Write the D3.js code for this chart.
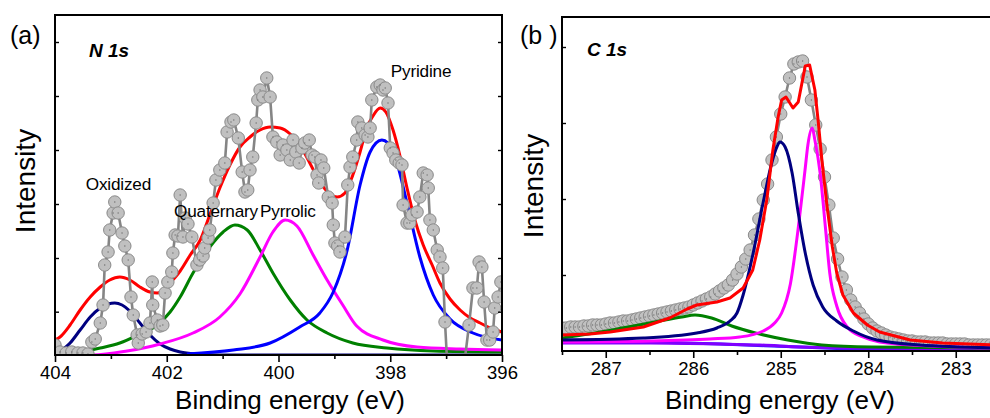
<html>
<head>
<meta charset="utf-8">
<script src="https://d3js.org/d3.v7.min.js"></script>
<style>
body { margin: 0; background: #fff; }
text { font-family: "Liberation Sans", Arial, sans-serif; }
</style>
</head>
<body>
<script>
// ---------- panel (a) : N 1s ----------
// binding energy (eV) / intensity (a.u.)
const n1sPoints = [
  [404.00,10],[403.91,3],[403.80,2],[403.70,3],[403.59,2],[403.50,2],[403.41,1],[403.34,13],
  [403.28,16],[403.19,32],[403.14,50],[403.11,90],[403.05,103],[403.02,125],[402.96,142],[402.93,153],
  [402.87,142],[402.80,122],[402.75,109],[402.69,95],[402.64,58],[402.60,40],[402.53,20],[402.51,12],
  [402.44,21],[402.37,23],[402.30,32],[402.26,73],[402.25,50],[402.17,35],[402.12,29],[402.07,30],
  [402.03,62],[401.98,73],[401.91,83],[401.89,102],[401.85,120],[401.80,119],[401.76,160],[401.71,118],
  [401.67,137],[401.62,131],[401.55,118],[401.46,90],[401.41,95],[401.35,99],[401.32,107],[401.26,117],
  [401.23,125],[401.17,152],[401.12,175],[401.05,185],[400.96,192],[400.92,223],[400.85,233],[400.80,235],
  [400.72,217],[400.65,183],[400.60,163],[400.55,165],[400.51,185],[400.46,198],[400.40,232],[400.37,255],
  [400.33,265],[400.28,258],[400.21,277],[400.15,258],[400.10,218],[400.03,213],[399.97,200],[399.92,210],
  [399.85,205],[399.79,195],[399.74,215],[399.69,203],[399.63,192],[399.58,207],[399.53,212],[399.45,215],
  [399.40,200],[399.35,198],[399.31,180],[399.28,172],[399.24,195],[399.19,187],[399.11,158],[399.04,152],
  [399.02,130],[398.99,112],[398.94,109],[398.90,103],[398.81,118],[398.76,170],[398.72,188],[398.67,198],
  [398.60,215],[398.58,233],[398.51,227],[398.45,220],[398.40,218],[398.36,227],[398.33,255],[398.24,268],
  [398.18,270],[398.13,265],[398.09,267],[398.04,252],[398.00,207],[397.95,202],[397.90,195],[397.84,192],
  [397.79,190],[397.77,150],[397.70,132],[397.65,132],[397.61,140],[397.52,143],[397.47,158],[397.41,182],
  [397.34,180],[397.32,167],[397.29,135],[397.23,125],[397.16,105],[397.11,98],[397.06,87],[397.02,33],
  [396.97,-20],[396.70,-20],[396.59,30],[396.52,67],[396.45,67],[396.41,93],[396.36,88],[396.32,53],
  [396.27,15],[396.22,15],[396.16,23],[396.13,47],[396.07,58],[396.02,73]
];
const n1sEnvelope = [
  [404.00,15],[403.91,18],[403.73,30],[403.55,45],[403.37,58],[403.19,68],[403.02,75],[402.84,78],
  [402.66,75],[402.48,68],[402.30,63],[402.17,62],[402.07,64],[401.94,72],[401.76,84],[401.58,100],
  [401.40,115],[401.23,140],[401.05,167],[400.87,190],[400.69,208],[400.51,218],[400.33,225],[400.15,228],
  [399.97,227],[399.79,221],[399.62,210],[399.44,192],[399.26,173],[399.08,161],[398.95,158],[398.81,162],
  [398.67,180],[398.54,203],[398.42,227],[398.31,239],[398.18,247],[398.08,243],[397.95,225],[397.83,200],
  [397.70,167],[397.56,135],[397.41,110],[397.25,90],[397.11,72],[396.93,56],[396.75,45],[396.57,37],
  [396.39,32],[396.21,27],[396.00,23]
];
const n1sOxidized = [
  [404.00,0],[403.95,2],[403.73,12],[403.55,25],[403.37,38],[403.19,47],[403.05,51],[402.93,52],
  [402.80,50],[402.66,44],[402.48,32],[402.30,20],[402.12,11],[401.94,6],[401.76,3],[401.49,1],
  [401.05,0],[399.62,0],[396.00,0]
];
const n1sQuaternary = [
  [404.00,0],[403.55,3],[403.19,7],[402.84,12],[402.48,21],[402.17,30],[401.94,43],[401.76,58],
  [401.53,82],[401.23,108],[400.99,123],[400.78,130],[400.56,125],[400.33,105],[400.10,82],[399.79,55],
  [399.49,35],[399.13,22],[398.67,12],[398.06,7],[397.23,4],[396.00,3]
];
const n1sPyrrolic = [
  [404.00,0],[403.32,0],[402.71,4],[402.12,11],[401.53,22],[401.05,38],[400.69,61],[400.33,98],
  [400.10,123],[399.88,135],[399.67,129],[399.38,100],[399.13,75],[398.85,50],[398.60,29],[398.13,15],
  [397.52,8],[396.75,6],[396.00,5]
];
const n1sPyridine = [
  [401.64,1],[400.81,5],[400.15,12],[399.62,28],[399.26,42],[399.02,63],[398.77,105],[398.54,170],
  [398.36,203],[398.15,215],[398.04,212],[397.88,192],[397.70,152],[397.47,98],[397.23,60],[396.93,36],
  [396.52,22],[396.00,15]
];
const n1sTicksMajor = [404, 402, 400, 398, 396];
const n1sTicksMinor = [403, 401, 399, 397];
const n1sTicksY = [43.3, 97, 151, 205, 259, 313];
const n1sLabels = [
  {text: "Oxidized", e: 403.45, v: 165},
  {text: "Quaternary", e: 401.87, v: 138},
  {text: "Pyrrolic", e: 400.33, v: 138},
  {text: "Pyridine", e: 397.99, v: 278}
];

// ---------- panel (b) : C 1s ----------
const c1sStart = 287.5, c1sStep = 0.05;
const c1sCounts = [
  23,23,24,24,24,25,25,26,26,26,27,28,28,29,30,30,31,32,33,34,
  35,36,37,38,39,40,41,42,43,44,46,48,50,52,54,57,60,63,66,71,
  77,84,92,101,116,132,151,167,191,214,237,254,273,287,289,290,274,251,226,202,
  174,146,113,92,74,61,51,44,38,32,27,23,20,18,16,14,13,12,11,10,
  10,9,9,9,8,8,8,8,7,7,7,7,7,6,6,6,6,6,6,6,6
];
const c1sEnvelope = [
  [287.50,16],[287.18,17],[286.95,19],[286.57,24],[286.27,33],[286.07,42],[285.96,46],[285.73,49],
  [285.58,53],[285.43,63],[285.32,81],[285.24,111],[285.16,151],[285.09,201],[285.03,234],[284.99,251],
  [284.94,254],[284.86,243],[284.80,249],[284.72,285],[284.67,286],[284.61,261],[284.57,228],[284.53,191],
  [284.47,144],[284.41,104],[284.36,78],[284.29,56],[284.17,38],[284.01,26],[283.87,19],[283.52,11],
  [283.15,8],[282.50,6]
];
const c1sNavy = [
  [287.50,11],[286.57,13],[285.96,18],[285.73,23],[285.58,30],[285.50,38],[285.43,56],[285.32,96],
  [285.20,149],[285.10,189],[285.04,205],[285.01,209],[284.95,204],[284.87,178],[284.80,138],[284.72,98],
  [284.63,66],[284.52,44],[284.36,30],[284.17,20],[283.90,11],[283.41,6],[282.50,3]
];
const c1sMagenta = [
  [287.50,9],[286.49,10],[285.81,12],[285.47,14],[285.20,20],[285.07,28],[284.99,38],[284.89,67],
  [284.80,123],[284.72,183],[284.69,206],[284.64,223],[284.61,211],[284.55,178],[284.49,124],[284.44,78],
  [284.36,45],[284.24,24],[284.06,14],[283.87,9],[283.29,5],[282.50,3]
];
const c1sGreen = [
  [287.50,13],[287.20,17],[286.81,23],[286.44,29],[286.13,34],[285.98,36],[285.79,33],[285.56,25],
  [285.29,18],[284.92,11],[284.53,6],[283.96,4],[282.50,3]
];
const c1sViolet = [
  [287.50,8],[286.49,8],[285.69,7],[285.24,6],[284.78,4],[284.21,3],[282.50,2]
];
const c1sBlue = [
  [287.50,11],[286.49,9],[285.69,7],[284.78,4],[284.09,2],[282.50,1]
];
const c1sTicksMajor = [287, 286, 285, 284, 283];
const c1sTicksMinor = [287.5, 286.5, 285.5, 284.5, 283.5, 282.5];
const c1sTicksY = [76, 152, 228, 304];

const W = 990, H = 418;
const svg = d3.select("body").append("svg").attr("width", W).attr("height", H);

function panel(cfg) {
  const g = svg.append("g");
  const x = d3.scaleLinear().domain(cfg.xDomain).range(cfg.xRange);
  const y = d3.scaleLinear().domain(cfg.yDomain).range(cfg.yRange);
  const clipId = "clip" + cfg.id;
  svg.append("clipPath").attr("id", clipId).append("rect")
    .attr("x", cfg.xRange[0]).attr("y", cfg.yRange[1])
    .attr("width", cfg.xRange[1] - cfg.xRange[0]).attr("height", cfg.yRange[0] - cfg.yRange[1]);
  const plot = g.append("g").attr("clip-path", `url(#${clipId})`);

  const line = d3.line().x(d => x(d[0])).y(d => y(d[1]));

  function drawScatter() {
    const sg = plot.append("g");
    sg.append("path").datum(cfg.points)
      .attr("d", d3.line().x(d => x(d[0])).y(d => y(d[1])))
      .attr("fill", "none").attr("stroke", "#858585").attr("stroke-width", 2.6);
    sg.selectAll("circle.pt").data(cfg.points).enter().append("circle")
      .attr("class", "pt")
      .attr("cx", d => x(d[0])).attr("cy", d => y(d[1])).attr("r", 6.2)
      .attr("fill", "#c0c0c0").attr("stroke", "#8a8a8a").attr("stroke-width", 1);
    sg.selectAll("circle.dot").data(cfg.points).enter().append("circle")
      .attr("class", "dot")
      .attr("cx", d => x(d[0])).attr("cy", d => y(d[1])).attr("r", 0.7)
      .attr("fill", "#707070");
  }
  function drawCurves() {
    cfg.curves.forEach(c => {
      plot.append("path").datum(c.data)
        .attr("d", line.curve(c.curve || d3.curveMonotoneX))
        .attr("fill", "none").attr("stroke", c.color).attr("stroke-width", 3)
        .attr("stroke-linejoin", "round");
    });
  }
  if (cfg.scatterOnTop) { drawCurves(); drawScatter(); }
  else { drawScatter(); drawCurves(); }

  // frame
  g.append("rect")
    .attr("x", cfg.xRange[0]).attr("y", cfg.yRange[1])
    .attr("width", cfg.xRange[1] - cfg.xRange[0]).attr("height", cfg.yRange[0] - cfg.yRange[1])
    .attr("fill", "none").attr("stroke", "#000").attr("stroke-width", 2);

  // bottom axis
  const xAxis = g.append("g").attr("transform", `translate(0,${cfg.yRange[0]})`)
    .call(d3.axisBottom(x).tickValues(cfg.ticksMajor).tickSize(7).tickSizeOuter(0).tickPadding(4)
      .tickFormat(d3.format("d")));
  xAxis.select(".domain").remove();
  xAxis.selectAll(".tick line").attr("stroke-width", 1.6);
  xAxis.selectAll(".tick text").attr("font-size", 18.5).attr("fill", "#000")
    .style("font-family", "'Liberation Sans', Arial, sans-serif");
  const xMinor = g.append("g").attr("transform", `translate(0,${cfg.yRange[0]})`)
    .call(d3.axisBottom(x).tickValues(cfg.ticksMinor).tickSize(4).tickSizeOuter(0).tickFormat(""));
  xMinor.select(".domain").remove();
  xMinor.selectAll(".tick line").attr("stroke-width", 1.6);

  // inward y ticks, no labels
  const yl = g.append("g").attr("transform", `translate(${cfg.xRange[0]},0)`)
    .call(d3.axisLeft(y).tickValues(cfg.ticksY).tickSize(-4).tickSizeOuter(0).tickFormat(""));
  yl.select(".domain").remove();
  yl.selectAll(".tick line").attr("stroke-width", 1.4);
  const yr = g.append("g").attr("transform", `translate(${cfg.xRange[1]},0)`)
    .call(d3.axisRight(y).tickValues(cfg.ticksY).tickSize(-4).tickSizeOuter(0).tickFormat(""));
  yr.select(".domain").remove();
  yr.selectAll(".tick line").attr("stroke-width", 1.4);

  // titles
  g.append("text").attr("x", cfg.tag[0]).attr("y", cfg.tag[1]).attr("font-size", 25).text(cfg.tagText);
  g.append("text").attr("x", cfg.core[0]).attr("y", cfg.core[1]).attr("font-size", 19)
    .attr("font-weight", "bold").attr("font-style", "italic").text(cfg.coreText);
  g.append("text").attr("transform", `translate(${cfg.ylab[0]},${cfg.ylab[1]}) rotate(-90)`)
    .attr("text-anchor", "middle").attr("font-size", 28).text("Intensity");
  g.append("text").attr("x", cfg.xlab[0]).attr("y", cfg.xlab[1]).attr("text-anchor", "middle")
    .attr("font-size", 26).text("Binding energy (eV)");

  (cfg.labels || []).forEach(l => {
    g.append("text").attr("x", x(l.e)).attr("y", y(l.v)).attr("font-size", 17.2)
      .attr("letter-spacing", -0.2).text(l.text);
  });
}

panel({
  id: "a",
  xDomain: [404, 396], xRange: [55, 502],
  yDomain: [0, 340], yRange: [355, 15],
  points: n1sPoints,
  scatterOnTop: true,
  curves: [
    {data: n1sOxidized, color: "#000080"},
    {data: n1sQuaternary, color: "#008000"},
    {data: n1sPyrrolic, color: "#ff00ff"},
    {data: n1sPyridine, color: "#0000ff"},
    {data: n1sEnvelope, color: "#ff0000"}
  ],
  ticksMajor: n1sTicksMajor, ticksMinor: n1sTicksMinor, ticksY: n1sTicksY,
  tag: [10, 44], tagText: "(a)",
  core: [89, 57], coreText: "N 1s",
  ylab: [35, 181], xlab: [290, 409],
  labels: n1sLabels
});

panel({
  id: "b",
  xDomain: [287.5, 282.5], xRange: [562, 999.5],
  yDomain: [0, 334], yRange: [351, 17],
  points: c1sCounts.map((v, i) => [c1sStart - i * c1sStep, v]),
  scatterOnTop: false,
  curves: [
    {data: c1sBlue, color: "#2020ff"},
    {data: c1sViolet, color: "#8000ff"},
    {data: c1sGreen, color: "#008000"},
    {data: c1sMagenta, color: "#ff00ff"},
    {data: c1sNavy, color: "#000080"},
    {data: c1sEnvelope, color: "#ff0000", curve: d3.curveLinear}
  ],
  ticksMajor: c1sTicksMajor, ticksMinor: c1sTicksMinor, ticksY: c1sTicksY,
  tag: [520, 44], tagText: "(b )",
  core: [587, 56], coreText: "C 1s",
  ylab: [543, 186], xlab: [780, 409]
});
</script>
</body>
</html>
